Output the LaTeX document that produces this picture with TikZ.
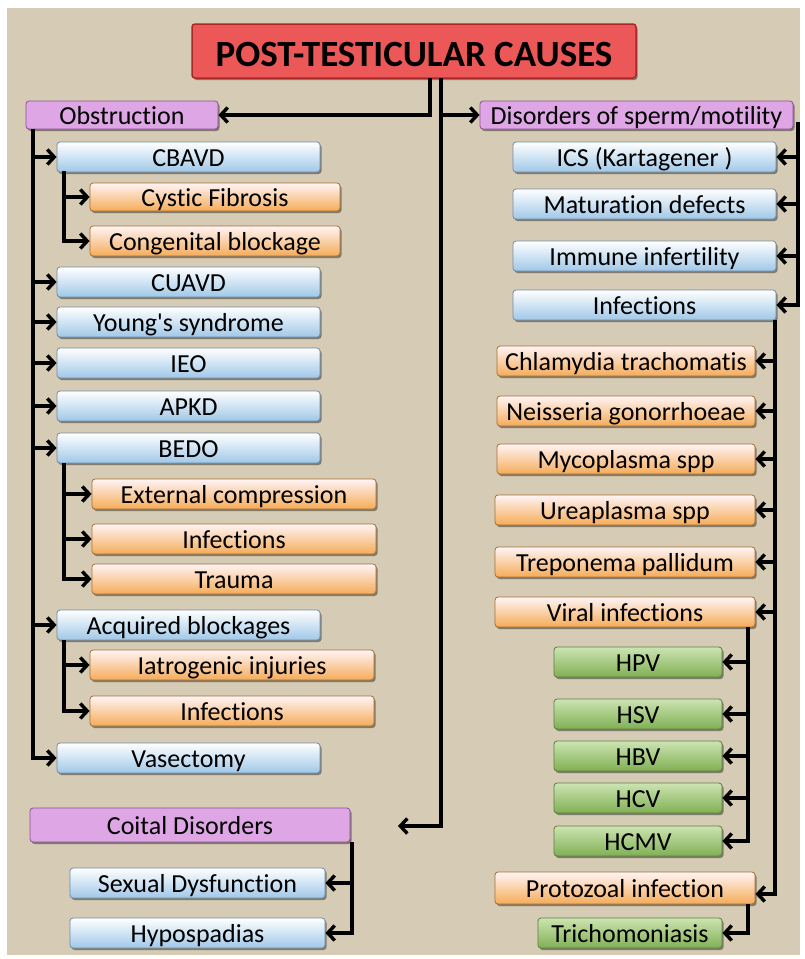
\documentclass[tikz,border=0pt]{standalone}
\usepackage{fontspec}
\setmainfont{Carlito}[Ligatures=NoCommon]
\usetikzlibrary{arrows.meta,shadows,calc}
\definecolor{bgbeige}{RGB}{214,204,181}
\definecolor{blueB}{RGB}{160,200,232}
\definecolor{blueD}{RGB}{110,140,170}
\definecolor{orangeB}{RGB}{245,172,88}
\definecolor{orangeT}{RGB}{255,244,246}
\definecolor{orangeD}{RGB}{170,110,50}
\definecolor{greenT}{RGB}{205,228,178}
\definecolor{greenB}{RGB}{128,176,84}
\definecolor{greenD}{RGB}{90,130,60}
\definecolor{purpF}{RGB}{222,166,228}
\definecolor{purpD}{RGB}{140,80,150}
\definecolor{redF}{RGB}{236,88,88}
\definecolor{redD}{RGB}{170,40,40}
\begin{document}
\begin{tikzpicture}[x=1pt,y=-1pt,
  box/.style={rounded corners=3pt, line width=0.8pt, minimum height=30pt, inner sep=0pt,
    text height=20pt, text depth=2pt,
    font=\fontsize{26}{26}\selectfont,
    drop shadow={shadow xshift=1.5pt, shadow yshift=-2pt, opacity=0.4, fill=black}},
  bluebox/.style={box, draw=blueD, top color=white, bottom color=blueB},
  orangebox/.style={box, draw=orangeD, top color=orangeT, bottom color=orangeB},
  greenbox/.style={box, draw=greenD, top color=greenT, bottom color=greenB},
  purpbox/.style={box, draw=purpD, fill=purpF, minimum height=28pt},
  titlebox/.style={box, draw=redD, fill=redF, line width=1.5pt, text height=33pt, text depth=2pt,
    font=\fontsize{37}{37}\selectfont\bfseries},
  arr/.style={line width=3.4pt, -{Straight Barb[length=7pt,width=15pt]}},
]
\useasboundingbox (0,0) rectangle (805,959);
\fill[white] (0,0) rectangle (805,959);
\fill[bgbeige] (7,8) rectangle (800,955);

% title and main categories
\node[titlebox, minimum width=444pt, minimum height=54pt] (title) at (414,51) {POST-TESTICULAR CAUSES};
\node[purpbox, minimum width=192pt] (obs) at (122,115) {Obstruction};
\node[purpbox, minimum width=313pt] (dis) at (636.5,115) {Disorders of sperm/motility};
\node[purpbox, minimum width=320pt, minimum height=34pt] (coit) at (190,825) {Coital Disorders};

% left column
\node[bluebox, minimum width=263pt] (cbavd) at (188.5,157) {CBAVD};
\node[orangebox, minimum width=250pt, minimum height=28pt] (cf) at (215,197) {Cystic Fibrosis};
\node[orangebox, minimum width=250pt] (cong) at (215,241) {Congenital blockage};
\node[bluebox, minimum width=263pt] (cuavd) at (188.5,282) {CUAVD};
\node[bluebox, minimum width=263pt] (young) at (188.5,322) {Young\textquotesingle s syndrome};
\node[bluebox, minimum width=263pt] (ieo) at (188.5,363) {IEO};
\node[bluebox, minimum width=263pt] (apkd) at (188.5,406) {APKD};
\node[bluebox, minimum width=263pt] (bedo) at (188.5,448) {BEDO};
\node[orangebox, minimum width=284pt] (ext) at (234,494) {External compression};
\node[orangebox, minimum width=284pt] (inf1) at (234,539) {Infections};
\node[orangebox, minimum width=284pt] (trau) at (234,579) {Trauma};
\node[bluebox, minimum width=263pt] (acq) at (188.5,625) {Acquired blockages};
\node[orangebox, minimum width=284pt] (iat) at (232,665) {Iatrogenic injuries};
\node[orangebox, minimum width=284pt] (inf2) at (232,711) {Infections};
\node[bluebox, minimum width=263pt] (vas) at (188.5,758) {Vasectomy};

% coital
\node[bluebox, minimum width=255pt] (sex) at (197.5,883) {Sexual Dysfunction};
\node[bluebox, minimum width=255pt] (hyp) at (197.5,933) {Hypospadias};

% right column
\node[bluebox, minimum width=263pt] (ics) at (644.5,157) {ICS (Kartagener )};
\node[bluebox, minimum width=263pt] (mat) at (644.5,204) {Maturation defects};
\node[bluebox, minimum width=263pt] (imm) at (644.5,256) {Immune infertility};
\node[bluebox, minimum width=263pt] (infr) at (644.5,305) {Infections};
\node[orangebox, minimum width=258pt] (chl) at (626,361) {Chlamydia trachomatis};
\node[orangebox, minimum width=258pt] (nei) at (626,411) {Neisseria gonorrhoeae};
\node[orangebox, minimum width=258pt] (myc) at (626,459) {Mycoplasma spp};
\node[orangebox, minimum width=260pt] (ure) at (625,510) {Ureaplasma spp};
\node[orangebox, minimum width=260pt] (tre) at (625,562) {Treponema pallidum};
\node[orangebox, minimum width=260pt] (vir) at (625,612) {Viral infections};
\node[greenbox, minimum width=168pt] (hpv) at (638,662) {HPV};
\node[greenbox, minimum width=168pt] (hsv) at (638,714) {HSV};
\node[greenbox, minimum width=168pt] (hbv) at (638,756) {HBV};
\node[greenbox, minimum width=168pt] (hcv) at (638,798) {HCV};
\node[greenbox, minimum width=168pt] (hcmv) at (638,841) {HCMV};
\node[orangebox, minimum width=260pt, minimum height=32pt] (pro) at (625,888) {Protozoal infection};
\node[greenbox, minimum width=184pt] (tri) at (630,933) {Trichomoniasis};

% connectors from title
\coordinate (ta) at (430,78);
\coordinate (tb) at (441,78);
\coordinate (ce) at (398,826);
\draw[arr] (ta) |- (obs.east);
\draw[arr] (tb) |- (ce);
\draw[arr] (tb |- dis.west) -- (dis.west);

% obstruction trunk
\coordinate (ot) at (33,129);
\foreach \n in {cbavd,cuavd,young,ieo,apkd,bedo,acq}
  \draw[arr] (ot |- \n.west) -- (\n.west);
\draw[arr] (ot) |- (vas.west);

% sub trunks
\coordinate (cbt) at (64,171);
\draw[arr] (cbt |- cf.west) -- (cf.west);
\draw[arr] (cbt) |- (cong.west);
\coordinate (bdt) at (64,463);
\draw[arr] (bdt |- ext.west) -- (ext.west);
\draw[arr] (bdt |- inf1.west) -- (inf1.west);
\draw[arr] (bdt) |- (trau.west);
\coordinate (act) at (64,640);
\draw[arr] (act |- iat.west) -- (iat.west);
\draw[arr] (act) |- (inf2.west);

% coital trunk
\coordinate (cot) at (352,842);
\draw[arr] (cot |- sex.east) -- (sex.east);
\draw[arr] (cot) |- (hyp.east);

% disorders trunk
\coordinate (dt) at (798,122);
\foreach \n in {ics,mat,imm}
  \draw[arr] (dt |- \n.east) -- (\n.east);
\draw[arr] (dt) |- (infr.east);

% infections trunk
\coordinate (it) at (775,320);
\foreach \n in {chl,nei,myc,ure,tre,vir}
  \draw[arr] (it |- \n.east) -- (\n.east);
\draw[arr] (it) |- ([yshift=-6pt]pro.east);

% viral trunk
\coordinate (vt) at (748,627);
\foreach \n in {hpv,hsv,hbv,hcv}
  \draw[arr] (vt |- \n.east) -- (\n.east);
\draw[arr] (vt) |- (hcmv.east);

% protozoal trunk
\coordinate (pt) at (748,904);
\draw[arr] (pt) |- (tri.east);
\end{tikzpicture}
\end{document}
